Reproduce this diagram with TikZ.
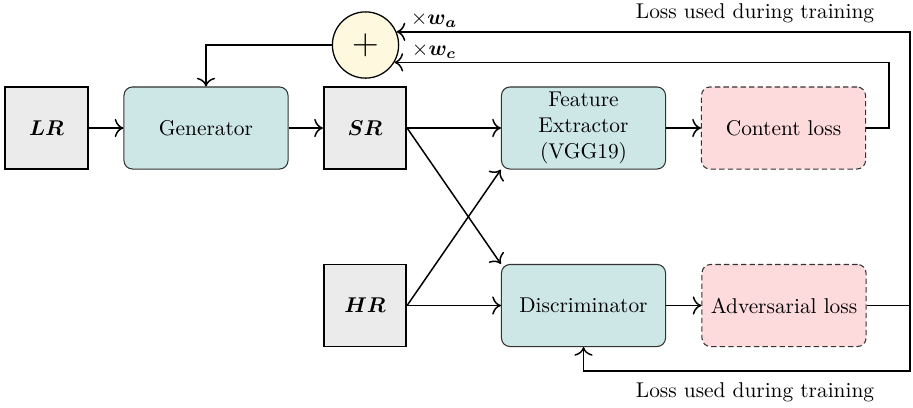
\documentclass[tikz,border=0pt]{standalone}
\usepackage{bm}
\usetikzlibrary{arrows.meta}
\definecolor{tealfill}{RGB}{205,230,230}
\definecolor{pinkfill}{RGB}{253,218,220}
\definecolor{yellowfill}{RGB}{253,248,222}
\definecolor{grayfill}{RGB}{235,235,235}
\begin{document}
\begin{tikzpicture}[x=0.468pt,y=-0.468pt,
  imgbox/.style={draw=black,line width=0.8pt,fill=grayfill,minimum width=38.6pt,minimum height=38.4pt,inner sep=0pt},
  netbox/.style={draw=black!80,line width=0.5pt,fill=tealfill,rounded corners=4pt,minimum width=76.8pt,minimum height=38.4pt,align=center,inner sep=0pt},
  lossbox/.style={netbox,fill=pinkfill,dash pattern={on 2.5pt off 1.5pt}},
  sumnode/.style={circle,draw=black,line width=0.6pt,fill=yellowfill,minimum size=31pt,inner sep=0pt,font=\LARGE},
  conn/.style={-{To[scale=1.3]},line width=0.7pt}]
\useasboundingbox (0,0) rectangle (913,407);
\node[imgbox] (LR) at (46.5,128) {$\bm{LR}$};
\node[netbox] (G) at (206,128) {Generator};
\node[imgbox] (SR) at (365,128) {$\bm{SR}$};
\node[imgbox] (HR) at (365,305.5) {$\bm{HR}$};
\node[netbox] (FE) at (583.5,128) {Feature\\Extractor\\(VGG19)};
\node[lossbox] (CL) at (783.5,128) {Content loss};
\node[netbox] (D) at (583.5,305.5) {Discriminator};
\node[lossbox] (AL) at (784,305.5) {Adversarial loss};
\node[sumnode] (P) at (365.5,45) {$+$};
\coordinate (cr) at (889,128);
\coordinate (ar) at (910,305.5);
\coordinate (br) at (910,371);
\node (wa) at (434,20) {$\times\bm{w_a}$};
\node (wc) at (434,51) {$\times\bm{w_c}$};
\node (lt) at (755,13) {Loss used during training};
\node (lb) at (755,392) {Loss used during training};
\draw[conn] (LR) -- (G);
\draw[conn] (G) -- (SR);
\draw[conn] (SR.east) -- (FE.west);
\draw[conn] (SR.east) -- (D.north west);
\draw[conn] (HR.east) -- (FE.south west);
\draw[conn] (HR.east) -- (D.west);
\draw[conn] (FE) -- (CL);
\draw[conn] (D) -- (AL);
\draw[conn] (CL.east) -- (cr) |- (P.-31);
\draw[conn] (AL.east) -- (ar) |- (P.23);
\draw[conn] (ar) -- (br) -| (D.south);
\draw[conn] (P.west) -| (G.north);
\end{tikzpicture}
\end{document}
